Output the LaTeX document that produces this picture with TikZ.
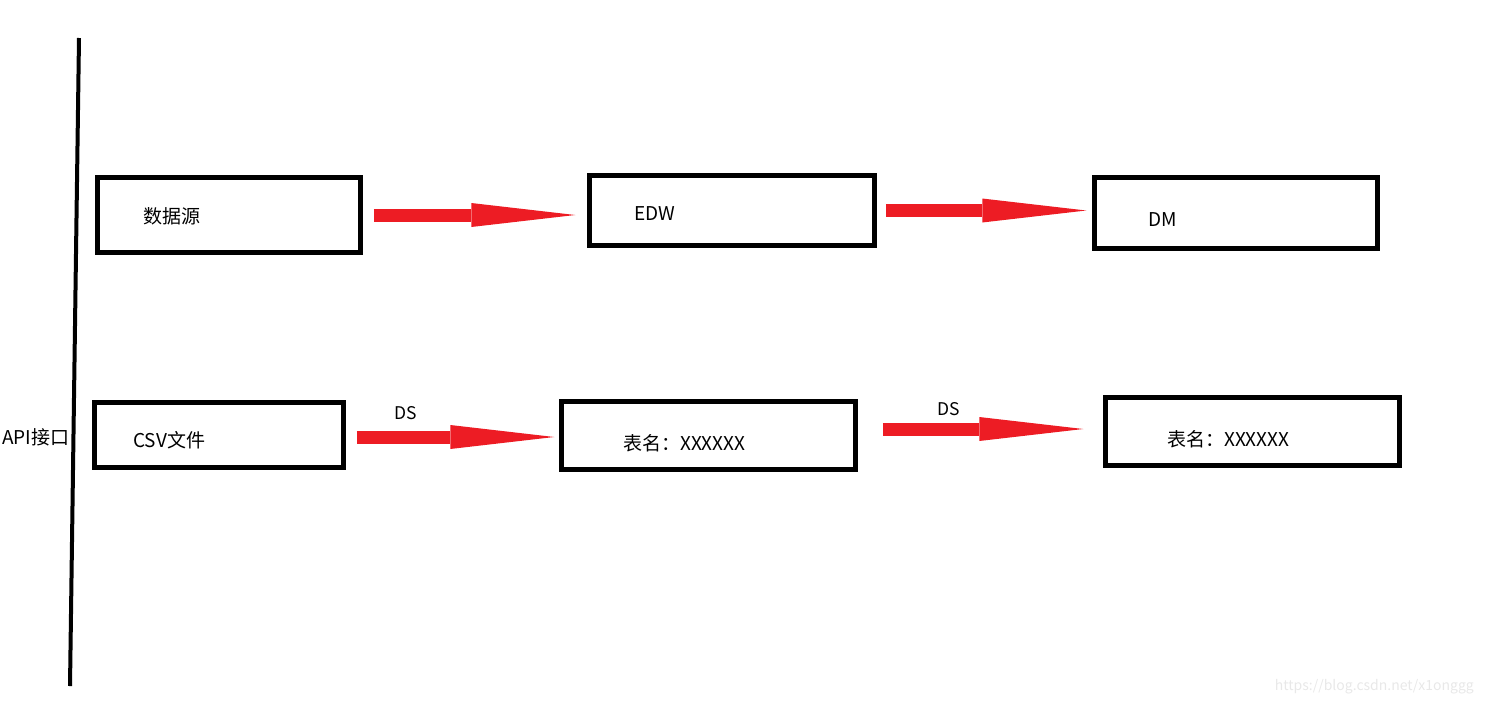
\documentclass[tikz,border=0pt]{standalone}
\usepackage{fontspec}
\setmainfont{Noto Sans CJK SC}
\usetikzlibrary{arrows.meta}
\definecolor{flowred}{RGB}{237,28,36}
\begin{document}
\begin{tikzpicture}[
  x=1pt, y=-1pt,
  box/.style={draw, line width=4.5pt, inner sep=0pt},
  lbl/.style={anchor=west, inner sep=0pt, font=\fontsize{19}{21}\selectfont},
  flow/.style={draw=flowred, line width=13pt, -{Triangle[length=104pt, width=24pt, line width=0pt]}},
  dslbl/.style={inner sep=0pt, font=\fontsize{17.5}{19}\selectfont}
]
  \useasboundingbox (0,0) rectangle (1487,704);
  \coordinate (axtop) at (79,38);
  \coordinate (axbottom) at (70,686);
  \draw[line width=4pt] (axtop) -- (axbottom);
  \node[lbl] (api) at (2,437) {API接口};

  \node[box, minimum width=263pt, minimum height=75pt] (src) at (229,215) {};
  \node[box, minimum width=285pt, minimum height=70pt] (edw) at (732,210.5) {};
  \node[box, minimum width=283pt, minimum height=71pt] (dm) at (1236,213) {};
  \node[box, minimum width=249pt, minimum height=65pt] (csv) at (219,435) {};
  \node[box, minimum width=294pt, minimum height=68pt] (tbla) at (708.5,435.5) {};
  \node[box, minimum width=294pt, minimum height=68pt] (tblb) at (1252.5,431.5) {};

  \node[lbl] (srctext) at (143,216) {数据源};
  \node[lbl] (edwtext) at (634,214) {EDW};
  \node[lbl] (dmtext) at (1148,220) {DM};
  \node[lbl] (csvtext) at (133,440) {CSV文件};
  \node[lbl] (tblatext) at (623,443) {表名：XXXXXX};
  \node[lbl] (tblbtext) at (1167,439) {表名：XXXXXX};

  \draw[flow, shorten <=11pt, shorten >=12pt] (src.east) -- (src.east -| edw.west);
  \draw[flow, shorten <=9pt, shorten >=6pt] (edw.east) -- (edw.east -| dm.west);
  \draw[flow, shorten <=11pt, shorten >=5pt] ([yshift=-2pt]csv.east) -- ([yshift=-2pt]csv.east -| tbla.west)
    node[dslbl, pos=0.28, above=11pt] {DS};
  \draw[flow, shorten <=25pt, shorten >=20pt] ([yshift=6.5pt]tbla.east) -- ([yshift=6.5pt]tbla.east -| tblb.west)
    node[dslbl, pos=0.37, above=7pt] {DS};

  \node[anchor=east, inner sep=0pt, text=black!9, font=\fontsize{14}{16}\selectfont] (mark) at (1474,687) {https://blog.csdn.net/x1onggg};
\end{tikzpicture}
\end{document}
